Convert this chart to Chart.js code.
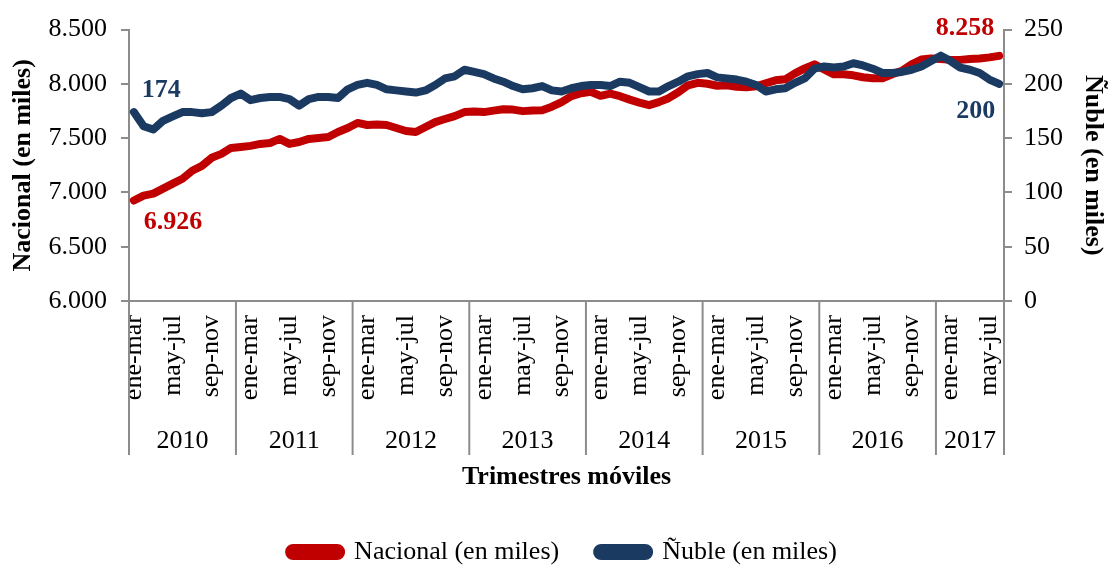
<!DOCTYPE html>
<html><head><meta charset="utf-8">
<script src="https://cdn.jsdelivr.net/npm/chart.js@4.4.1/dist/chart.umd.min.js"></script>
<style>html,body{margin:0;padding:0;background:#fff;overflow:hidden;}</style>
</head><body><canvas id="c" width="1108" height="569"></canvas>
<script>
// ---- data ----
const categories = [
 'ene-mar','feb-abr','mar-may','abr-jun','may-jul','jun-ago','jul-sep','ago-oct','sep-nov','oct-dic','nov-ene',
 'dic-feb','ene-mar','feb-abr','mar-may','abr-jun','may-jul','jun-ago','jul-sep','ago-oct','sep-nov','oct-dic','nov-ene',
 'dic-feb','ene-mar','feb-abr','mar-may','abr-jun','may-jul','jun-ago','jul-sep','ago-oct','sep-nov','oct-dic','nov-ene',
 'dic-feb','ene-mar','feb-abr','mar-may','abr-jun','may-jul','jun-ago','jul-sep','ago-oct','sep-nov','oct-dic','nov-ene',
 'dic-feb','ene-mar','feb-abr','mar-may','abr-jun','may-jul','jun-ago','jul-sep','ago-oct','sep-nov','oct-dic','nov-ene',
 'dic-feb','ene-mar','feb-abr','mar-may','abr-jun','may-jul','jun-ago','jul-sep','ago-oct','sep-nov','oct-dic','nov-ene',
 'dic-feb','ene-mar','feb-abr','mar-may','abr-jun','may-jul','jun-ago','jul-sep','ago-oct','sep-nov','oct-dic','nov-ene',
 'dic-feb','ene-mar','feb-abr','mar-may','abr-jun','may-jul','jun-ago'
];
const years = ['2010','2011','2012','2013','2014','2015','2016','2017'];
const yearSizes = [11,12,12,12,12,12,12,7];
const nacional = [
 6926,6971,6989,7035,7081,7126,7200,7245,7319,7355,
 7410,7419,7429,7447,7456,7493,7447,7465,7493,7502,
 7511,7557,7594,7640,7621,7626,7621,7594,7566,7557,
 7603,7648,7676,7703,7740,7745,7740,7754,7767,7763,
 7749,7754,7758,7790,7832,7887,7914,7928,7890,7910,
 7887,7855,7827,7804,7832,7868,7923,7987,8010,8001,
 7983,7987,7974,7969,7978,8006,8033,8042,8097,8143,
 8180,8134,8088,8088,8079,8061,8051,8051,8088,8120,
 8180,8225,8234,8230,8221,8221,8230,8234,8244,8258
];
const nuble = [
 174,161,158,166,170,174,174,173,174,180,
 187,191,185,187,188,188,186,180,186,188,
 188,187,195,199,201,199,195,194,193,192,
 194,199,205,207,213,211,209,205,202,198,
 195,196,198,194,193,196,198,199,199,198,
 202,201,197,193,193,198,202,207,209,210,
 206,205,204,202,199,193,195,196,201,205,
 214,216,215,216,219,217,214,210,210,211,
 213,216,221,226,221,215,213,210,204,200
];
const leftTicks = [6000,6500,7000,7500,8000,8500];
const rightTicks = [0,50,100,150,200,250];

const RED = '#C00000', NAVY = '#1B3A62', GRAY = '#8C8C8C';
const FONT = '"Times New Roman","Liberation Serif",serif';
function fmt(v){ return String(Math.round(v)).replace(/\B(?=(\d{3})+(?!\d))/g,'.'); }

Chart.defaults.font.family = FONT;
Chart.defaults.font.size = 26;
Chart.defaults.color = '#000';

const yearAxisPlugin = {
  id: 'yearAxis',
  afterDraw(chart){
    const x = chart.scales.x, ctx = chart.ctx, ca = chart.chartArea;
    const step = x.getPixelForValue(1) - x.getPixelForValue(0);
    ctx.save();
    ctx.strokeStyle = GRAY; ctx.lineWidth = 2;
    ctx.fillStyle = '#000';
    ctx.font = '26px ' + FONT;
    ctx.textAlign = 'center'; ctx.textBaseline = 'middle';
    let start = 0;
    yearSizes.forEach((n, k) => {
      const l = x.getPixelForValue(start) - step/2;
      const r = x.getPixelForValue(start + n - 1) + step/2;
      ctx.beginPath();
      ctx.moveTo(l, ca.bottom); ctx.lineTo(l, ca.bottom + 154);
      if (k === yearSizes.length - 1) { ctx.moveTo(r, ca.bottom); ctx.lineTo(r, ca.bottom + 154); }
      ctx.stroke();
      ctx.fillText(years[k], (l + r)/2, ca.bottom + 140);
      start += n;
    });
    ctx.restore();
  }
};

const endLabelsPlugin = {
  id: 'endLabels',
  afterDatasetsDraw(chart){
    const ctx = chart.ctx;
    const mR = chart.getDatasetMeta(0).data, mB = chart.getDatasetMeta(1).data;
    const last = nacional.length - 1;
    ctx.save();
    ctx.font = 'bold 26px ' + FONT;
    ctx.textBaseline = 'middle';
    ctx.fillStyle = NAVY; ctx.textAlign = 'left';
    ctx.fillText(fmt(nuble[0]), mB[0].x + 8, mB[0].y - 22);
    ctx.fillStyle = RED;
    ctx.fillText(fmt(nacional[0]), mR[0].x + 10, mR[0].y + 22);
    ctx.textAlign = 'right';
    ctx.fillText(fmt(nacional[last]), mR[last].x - 5, mR[last].y - 28);
    ctx.fillStyle = NAVY;
    ctx.fillText(fmt(nuble[last]), mB[last].x - 4, mB[last].y + 27);
    ctx.restore();
  }
};

new Chart(document.getElementById('c'), {
  type: 'line',
  data: {
    labels: categories,
    datasets: [
      { label: 'Nacional (en miles)', data: nacional, yAxisID: 'y', borderColor: RED, backgroundColor: RED,
        borderWidth: 8, pointRadius: 0, tension: 0, borderJoinStyle: 'round', borderCapStyle: 'round', order: 1 },
      { label: 'Ñuble (en miles)', data: nuble, yAxisID: 'y1', borderColor: NAVY, backgroundColor: NAVY,
        borderWidth: 8, pointRadius: 0, tension: 0, borderJoinStyle: 'round', borderCapStyle: 'round', order: 0 }
    ]
  },
  options: {
    responsive: false, animation: false, devicePixelRatio: 1,
    layout: { padding: { top: 28, bottom: -6, left: 18, right: 0 } },
    plugins: {
      tooltip: { enabled: false },
      legend: {
        position: 'bottom',
        labels: {
          sort: (a, b) => a.datasetIndex - b.datasetIndex,
          boxWidth: 52, boxHeight: 8, useBorderRadius: true, borderRadius: 4,
          padding: 38, font: { size: 26 }, color: '#000'
        }
      }
    },
    scales: {
      x: {
        type: 'category', offset: true,
        grid: { display: false, drawTicks: false },
        border: { display: true, color: GRAY, width: 2 },
        ticks: {
          autoSkip: false, minRotation: 90, maxRotation: 90, padding: 14,
          font: { size: 26 },
          callback: function(v, i){ return i % 4 === 0 ? categories[i] : ''; }
        },
        title: { display: true, text: 'Trimestres móviles', font: { size: 26, weight: 'bold' }, padding: { top: 0, bottom: 8 } },
        afterFit: (s) => { s.height = 200; }
      },
      y: {
        position: 'left', min: 6000, max: 8500,
        afterBuildTicks: (s) => { s.ticks = leftTicks.map(v => ({ value: v })); },
        grid: { drawOnChartArea: false, drawTicks: true, tickLength: 8, color: GRAY, lineWidth: 2 },
        border: { display: true, color: GRAY, width: 2 },
        ticks: { padding: 14, callback: (v) => fmt(v), font: { size: 26 } },
        title: { display: true, text: 'Nacional (en miles)', font: { size: 26, weight: 'bold' }, padding: { top: -10, bottom: 0 } },
        afterFit: (s) => { s.width = 111; }
      },
      y1: {
        position: 'right', min: 0, max: 250,
        afterBuildTicks: (s) => { s.ticks = rightTicks.map(v => ({ value: v })); },
        grid: { drawOnChartArea: false, drawTicks: true, tickLength: 8, color: GRAY, lineWidth: 2 },
        border: { display: true, color: GRAY, width: 2 },
        ticks: { padding: 12, font: { size: 26 } },
        title: { display: true, text: 'Ñuble (en miles)', font: { size: 26, weight: 'bold' }, padding: { top: 0, bottom: 0 } },
        afterFit: (s) => { s.width = 104; }
      }
    }
  },
  plugins: [yearAxisPlugin, endLabelsPlugin]
});
</script>
</body></html>
